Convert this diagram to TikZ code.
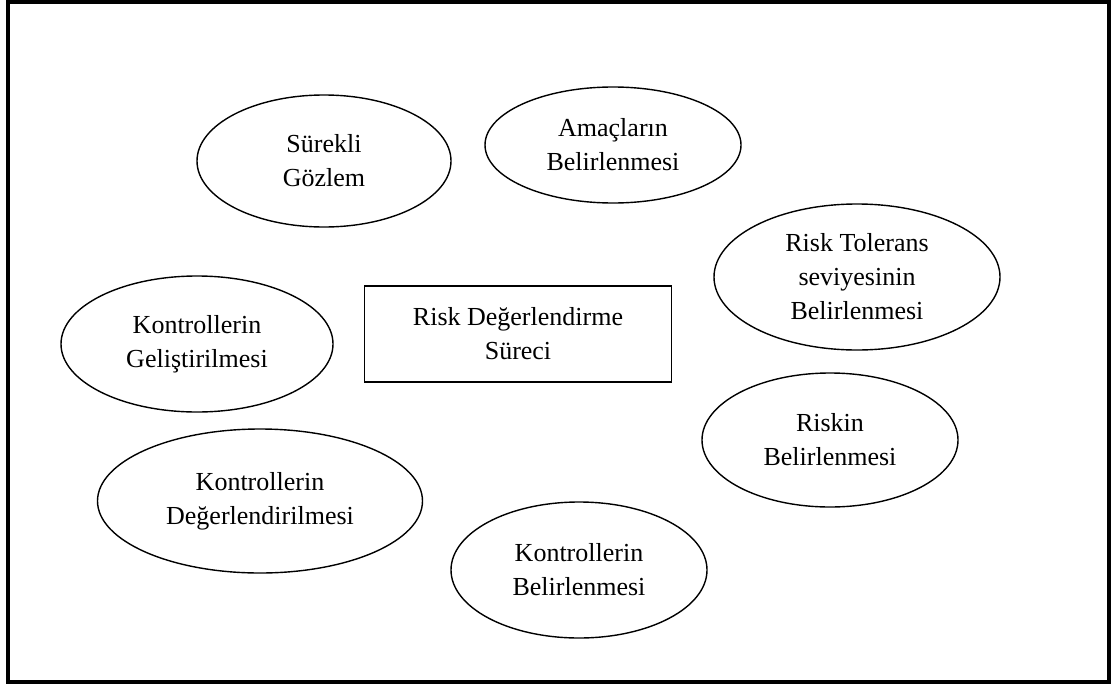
\documentclass[tikz,border=0pt]{standalone}
\usepackage{fontspec}
\setmainfont{Liberation Serif}
\usetikzlibrary{shapes.geometric}

\begin{document}
\begin{tikzpicture}[
  x=1pt, y=-1pt,
  every node/.style={font=\fontsize{26}{34}\selectfont, align=center, inner sep=0pt},
  oval/.style={draw, ellipse, line width=1.4pt},
  centerbox/.style={draw, rectangle, line width=1.6pt}
]
\useasboundingbox (0,0) rectangle (1115,685);
\draw[line width=4pt] (8,2) rectangle (1109,682);

% ovals round the centre
\node (gozlem)   [oval, minimum width=254pt, minimum height=132pt] at (324,161) {Sürekli\\Gözlem};
\node (amac)     [oval, minimum width=256pt, minimum height=116pt] at (613,145) {Amaçların\\Belirlenmesi};
\node (tolerans) [oval, minimum width=286pt, minimum height=146pt] at (857,277) {Risk Tolerans\\seviyesinin\\Belirlenmesi};
\node (gelistir) [oval, minimum width=272pt, minimum height=136pt] at (197,344) {Kontrollerin\\Geliştirilmesi};
\node (riskin)   [oval, minimum width=256pt, minimum height=134pt] at (830,440) {Riskin\\Belirlenmesi};
\node (degerlendir) [oval, minimum width=325pt, minimum height=144pt] at (260,501) {Kontrollerin\\Değerlendirilmesi};
\node (belirle)  [oval, minimum width=256pt, minimum height=136pt] at (579,570) {Kontrollerin\\Belirlenmesi};

% centre box
\node (surec) [centerbox, minimum width=307pt, minimum height=96pt] at (518,334) {Risk Değerlendirme\\Süreci};
\end{tikzpicture}
\end{document}
